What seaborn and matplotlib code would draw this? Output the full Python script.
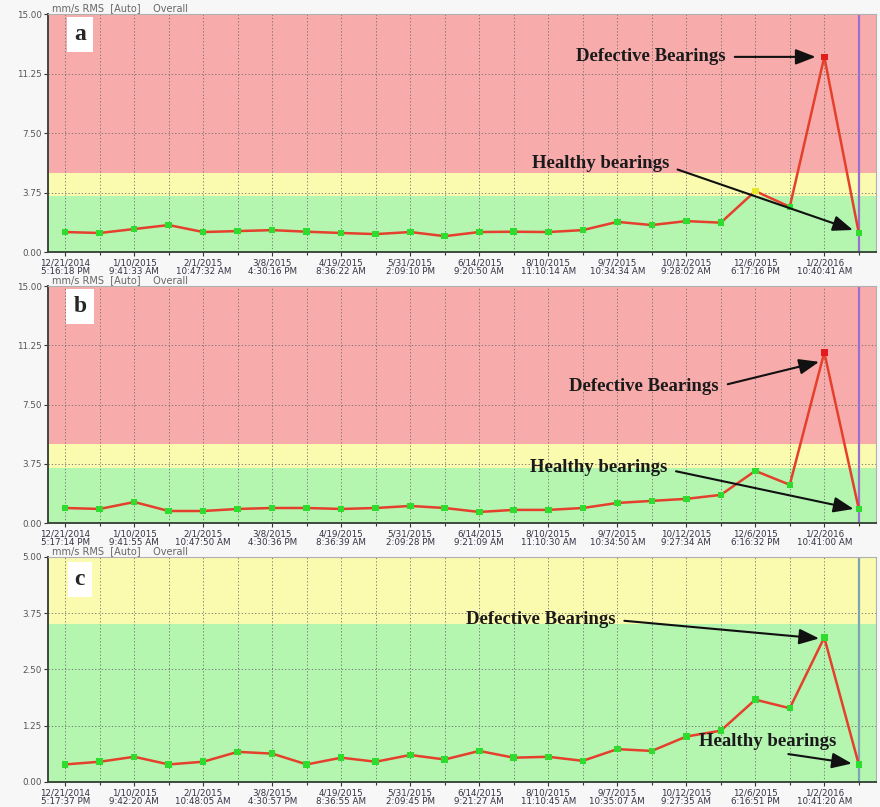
import numpy as np
import pandas as pd
import matplotlib
matplotlib.use("Agg")
import matplotlib.pyplot as plt
import seaborn as sns

# Overall vibration velocity readings (mm/s RMS) per survey
vals_a = [1.26, 1.20, 1.45, 1.70, 1.26, 1.32, 1.38, 1.28, 1.20, 1.13, 1.26, 1.00,
          1.26, 1.28, 1.26, 1.38, 1.90, 1.70, 1.95, 1.85, 3.84, 2.85, 12.30, 1.20]
vals_b = [0.95, 0.89, 1.33, 0.76, 0.76, 0.89, 0.95, 0.95, 0.89, 0.95, 1.08, 0.95,
          0.70, 0.83, 0.83, 0.95, 1.27, 1.40, 1.53, 1.78, 3.30, 2.42, 10.80, 0.89]
vals_c = [0.39, 0.45, 0.56, 0.39, 0.45, 0.67, 0.63, 0.39, 0.54, 0.45, 0.60, 0.50,
          0.69, 0.54, 0.56, 0.47, 0.73, 0.69, 1.01, 1.14, 1.83, 1.64, 3.21, 0.39]

date_labels = ["12/21/2014", "1/10/2015", "2/1/2015", "3/8/2015", "4/19/2015", "5/31/2015",
               "6/14/2015", "8/10/2015", "9/7/2015", "10/12/2015", "12/6/2015", "1/2/2016"]
times_a = ["5:16:18 PM", "9:41:33 AM", "10:47:32 AM", "4:30:16 PM", "8:36:22 AM", "2:09:10 PM",
           "9:20:50 AM", "11:10:14 AM", "10:34:34 AM", "9:28:02 AM", "6:17:16 PM", "10:40:41 AM"]
times_b = ["5:17:14 PM", "9:41:55 AM", "10:47:50 AM", "4:30:36 PM", "8:36:39 AM", "2:09:28 PM",
           "9:21:09 AM", "11:10:30 AM", "10:34:50 AM", "9:27:34 AM", "6:16:32 PM", "10:41:00 AM"]
times_c = ["5:17:37 PM", "9:42:20 AM", "10:48:05 AM", "4:30:57 PM", "8:36:55 AM", "2:09:45 PM",
           "9:21:27 AM", "11:10:45 AM", "10:35:07 AM", "9:27:35 AM", "6:16:51 PM", "10:41:20 AM"]

yticks_ab = [0.00, 3.75, 7.50, 11.25, 15.00]
yticks_c = [0.00, 1.25, 2.50, 3.75, 5.00]

# alarm bands
ALERT, DANGER = 3.5, 5.0
GREEN, YELLOW, RED = "#b4f5b0", "#fbfbb0", "#f8abab"

sns.set_theme(style="white")
plt.rcParams["font.family"] = ["DejaVu Sans"]

fig = plt.figure(figsize=(8.8, 8.07), dpi=100, facecolor="#f7f7f7")

panels = [
    ("a", vals_a, times_a, 15.0, yticks_ab, "#9a6fd0",
     [0.0545, 0.6877, 0.941, 0.2949],
     dict(def_xy=(21.75, 12.3), def_txt=(19.15, 12.3), def_rel=(1.0, 0.5),
          hl_xy=(22.83, 1.39), hl_txt=(17.5, 5.6), hl_rel=(1.0, 0.3)),
     0.915),
    ("b", vals_b, times_b, 15.0, yticks_ab, "#9a6fd0",
     [0.0545, 0.3519, 0.941, 0.2937],
     dict(def_xy=(21.85, 10.2), def_txt=(18.95, 8.65), def_rel=(1.0, 0.5),
          hl_xy=(22.85, 0.89), hl_txt=(17.45, 3.5), hl_rel=(1.0, 0.4)),
     0.915),
    ("c", vals_c, times_c, 5.0, yticks_c, "#7fa3b5",
     [0.0545, 0.0310, 0.941, 0.2788],
     dict(def_xy=(21.85, 3.19), def_txt=(15.95, 3.6), def_rel=(1.0, 0.5),
          hl_xy=(22.8, 0.41), hl_txt=(22.35, 0.90), hl_rel=(0.45, 0.0)),
     0.90),
]

serif = ["Liberation Serif", "DejaVu Serif"]

for letter, vals, times, ymax, yticks, vcolor, rect, ann, lab_y in panels:
    ax = fig.add_axes(rect)
    n = len(vals)
    df = pd.DataFrame({"idx": np.arange(n), "val": vals})
    df["zone"] = np.where(df["val"] >= DANGER, "danger",
                          np.where(df["val"] >= ALERT, "alert", "ok"))

    # alarm band backgrounds
    ax.axhspan(0, ALERT, color=GREEN, zorder=0, lw=0)
    ax.axhspan(ALERT, DANGER, color=YELLOW, zorder=0, lw=0)
    if ymax > DANGER:
        ax.axhspan(DANGER, ymax, color=RED, zorder=0, lw=0)

    # dotted grid at each survey and each value tick
    for i in range(n):
        ax.axvline(i, color="#6a6a6a", lw=0.6, ls=(0, (1.5, 2.5)), zorder=1)
    for t in yticks[1:-1]:
        ax.axhline(t, color="#6a6a6a", lw=0.6, ls=(0, (1.5, 2.5)), zorder=1)

    # cursor line at latest reading
    ax.axvline(n - 1, color=vcolor, lw=1.6, zorder=2)

    sns.lineplot(data=df, x="idx", y="val", ax=ax, color="#e4402c", lw=1.8,
                 zorder=3, legend=False)
    sns.scatterplot(data=df, x="idx", y="val", hue="zone", ax=ax, marker="s", s=22,
                    palette={"ok": "#2edc2e", "alert": "#e6e62a", "danger": "#e21c1c"},
                    edgecolor="none", zorder=4, legend=False)

    ax.set_xlim(-0.5, n - 0.5)
    ax.set_ylim(0, ymax)
    ax.set_xlabel("")
    ax.set_ylabel("")
    ax.set_yticks(yticks)
    ax.set_yticklabels([f"{t:.2f}" for t in yticks], fontsize=6.3, color="#555555")
    ax.set_xticks(np.arange(0, n - 1, 2))
    ax.set_xticklabels([f"{d}\n{t}" for d, t in zip(date_labels, times)],
                       fontsize=6.3, color="#333344", linespacing=1.0)
    ax.set_xticks(np.arange(n), minor=True)
    ax.tick_params(axis="both", which="both", direction="out", length=3, width=0.8,
                   color="#333333", pad=1.5, bottom=True, left=True)
    ax.tick_params(axis="x", which="minor", length=2)

    for side in ("left", "bottom"):
        ax.spines[side].set_color("#3c4a3c")
        ax.spines[side].set_linewidth(1.4)
    for side in ("top", "right"):
        ax.spines[side].set_color("#b0b0b0")
        ax.spines[side].set_linewidth(0.8)

    ax.text(0.005, 1.003, "mm/s RMS  [Auto]    Overall", transform=ax.transAxes,
            fontsize=7, color="#666666", ha="left", va="bottom")

    ax.text(0.0386, lab_y, letter, transform=ax.transAxes, fontsize=17,
            fontweight="bold", family=serif, ha="center", va="center", zorder=6,
            bbox=dict(boxstyle="square,pad=0.3", fc="white", ec="none"))

    arrow = dict(arrowstyle="-|>,head_length=0.9,head_width=0.35", color="#111111",
                 lw=1.5, shrinkA=4, shrinkB=0)
    ax.annotate("Defective Bearings", xy=ann["def_xy"], xytext=ann["def_txt"],
                ha="right", va="center", fontsize=13.5, fontweight="bold",
                family=serif, color="#1a1a1a", zorder=6,
                arrowprops=dict(arrow, relpos=ann["def_rel"]))
    ax.annotate("Healthy bearings", xy=ann["hl_xy"], xytext=ann["hl_txt"],
                ha="right", va="center", fontsize=13.5, fontweight="bold",
                family=serif, color="#1a1a1a", zorder=6,
                arrowprops=dict(arrow, relpos=ann["hl_rel"]))

fig.savefig("out.png", dpi=100, facecolor=fig.get_facecolor())
